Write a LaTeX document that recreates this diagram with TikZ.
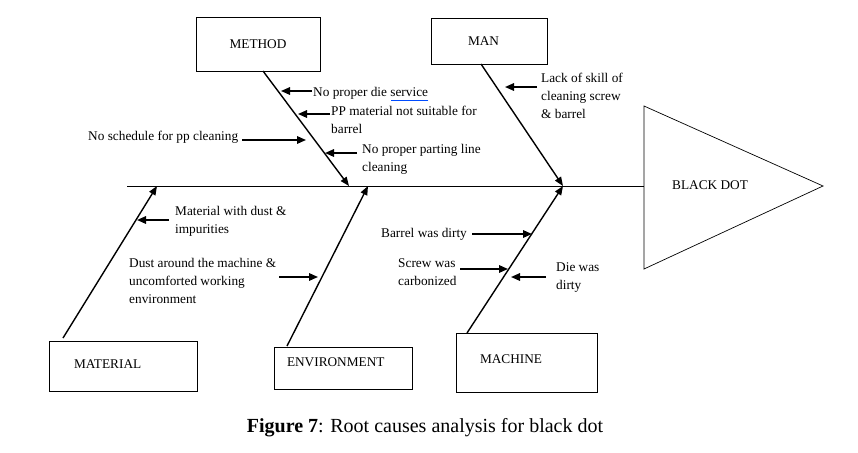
\documentclass[tikz,border=0pt]{standalone}
\usepackage{fontspec}
\setmainfont{Liberation Serif}
\usetikzlibrary{arrows.meta}
\begin{document}
\begin{tikzpicture}[x=1pt,y=-1pt,
  txt/.style={font=\fontsize{13.3}{18}\selectfont},
  box/.style={draw,line width=0.9pt,inner ysep=0pt,txt},
  lbl/.style={txt,inner sep=0pt,align=left},
  bone/.style={line width=1.4pt,-{Triangle[length=9pt,width=7pt]}},
  cause/.style={line width=1.6pt,-{Triangle[length=9pt,width=7.5pt]}},
  spine/.style={line width=0.9pt},
]
\useasboundingbox (0,0) rectangle (858,452);

% category boxes
\node[box,minimum width=124pt,minimum height=54pt] (method) at (258,44) {METHOD};
\node[box,minimum width=116pt,minimum height=46pt,inner xsep=37pt,text width=42pt,align=left] (man) at (489,41) {MAN};
\node[box,minimum width=148pt,minimum height=50pt,inner xsep=25pt,text width=98pt,align=left,text height=9pt,text depth=4pt] (material) at (123,366) {MATERIAL};
\node[box,minimum width=138pt,minimum height=42pt,inner xsep=13pt,text width=112pt,align=left,text height=9pt,text depth=12pt] (environment) at (343,368) {ENVIRONMENT};
\node[box,minimum width=141pt,minimum height=59pt,inner xsep=24pt,text width=93pt,align=left,text height=9pt,text depth=7pt] (machine) at (526.5,362.5) {MACHINE};

% head
\coordinate (tl) at (644,106);
\coordinate (tb) at (644,269);
\coordinate (tp) at (823,186);
\coordinate (tm) at (644,186);
\coordinate (tail) at (127,186);
\draw[line width=0.7pt] (tl) -- (tp) -- (tb) -- cycle;
\node[txt,anchor=west,inner sep=0pt] (effect) at (672,185) {BLACK DOT};
\draw[spine] (tail) -- (tm);

% bones
\coordinate (ms) at (263,71);   \coordinate (jm) at (349,186);
\coordinate (ns) at (481,64);   \coordinate (jn) at (563,186);
\coordinate (mats) at (63,338); \coordinate (jmat) at (157,186);
\coordinate (envs) at (287,346); \coordinate (jenv) at (368,186);
\coordinate (macs) at (467,333); \coordinate (jmac) at (563,186);
\draw[bone] (ms) -- (jm);
\draw[bone] (ns) -- (jn);
\draw[bone] (mats) -- (jmat);
\draw[bone] (envs) -- (jenv);
\draw[bone] (macs) -- (jmac);

% cause texts
\node[lbl,anchor=west] (c1) at (313,93) {No proper die service};
\node[lbl,anchor=north west] (c2) at (331,106) {PP material not suitable for\\barrel};
\node[lbl,anchor=west] (c3) at (88,137) {No schedule for pp cleaning};
\node[lbl,anchor=north west] (c4) at (362,144) {No proper parting line\\cleaning};
\node[lbl,anchor=north west] (c5) at (541,73) {Lack of skill of\\cleaning screw\\\& barrel};
\node[lbl,anchor=north west] (c6) at (175,206) {Material with dust \&\\impurities};
\node[lbl,anchor=north west] (c7) at (129,258) {Dust around the machine \&\\uncomforted working\\environment};
\node[lbl,anchor=west] (c8) at (381,234) {Barrel was dirty};
\node[lbl,anchor=north west] (c9) at (398,258) {Screw was\\carbonized};
\node[lbl,anchor=north west] (c10) at (556,262) {Die was\\dirty};
\draw[blue!70!cyan,line width=0.8pt] ([yshift=-4pt]c1.base east) -- ++(-37,0);

% cause arrows
\coordinate (a1s) at (312,91);  \coordinate (a1e) at (281,91);
\coordinate (a2s) at (330,114); \coordinate (a2e) at (298,114);
\coordinate (a3s) at (242,140); \coordinate (a3e) at (306,140);
\coordinate (a4s) at (357,153); \coordinate (a4e) at (325,153);
\coordinate (a5s) at (537,87);  \coordinate (a5e) at (505,87);
\coordinate (a6s) at (169,220); \coordinate (a6e) at (137,220);
\coordinate (a7s) at (279,277); \coordinate (a7e) at (318,277);
\coordinate (a8s) at (472,234); \coordinate (a8e) at (532,234);
\coordinate (a9s) at (460,269); \coordinate (a9e) at (508,269);
\coordinate (a10s) at (546,277); \coordinate (a10e) at (511,277);
\foreach \i in {1,...,10} \draw[cause] (a\i s) -- (a\i e);

% caption
\node[font=\fontsize{20}{24}\selectfont,inner sep=0pt] (caption) at (425,428) {\textbf{Figure 7}: Root causes analysis for black dot};
\end{tikzpicture}
\end{document}
